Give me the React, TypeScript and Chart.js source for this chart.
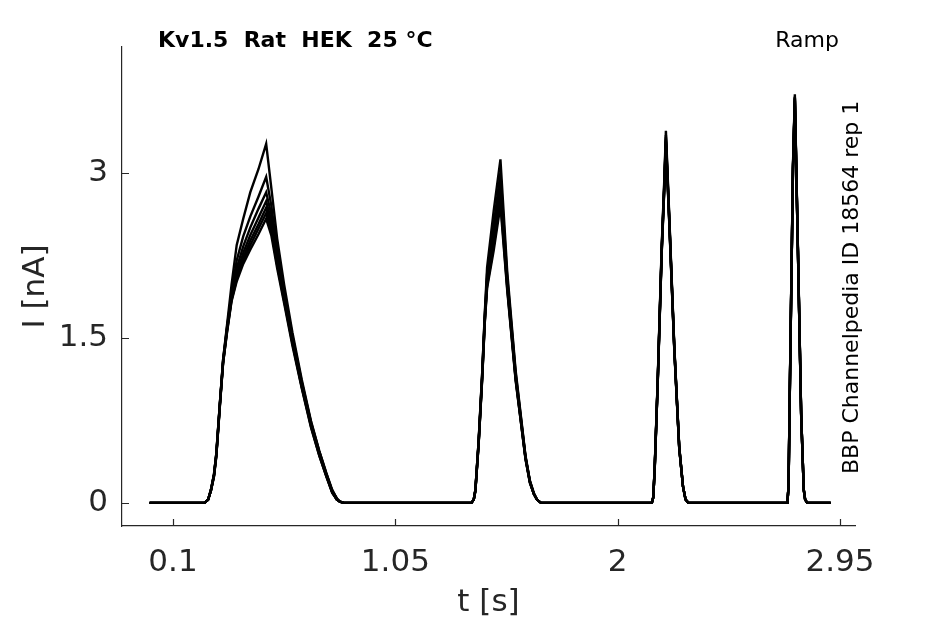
import { useEffect, useRef } from "react";
import { Chart, registerables } from "chart.js";

Chart.register(...registerables);

// sample times [s], one row per ramp
const TIME = [
  0, 0.235, 0.25, 0.262, 0.275, 0.285, 0.3, 0.314, 0.331, 0.35, 0.372, 0.4, 0.43, 0.465, 0.498, 0.52, 0.545, 0.575, 0.61, 0.65, 0.69, 0.725, 0.755, 0.78, 0.8, 0.813, 0.83,
  1.375, 1.385, 1.392, 1.406, 1.421, 1.432, 1.442, 1.47, 1.499, 1.528, 1.564, 1.606, 1.625, 1.642, 1.655, 1.672,
  2.146, 2.152, 2.158, 2.171, 2.188, 2.199, 2.206, 2.22, 2.242, 2.263, 2.279, 2.29, 2.302,
  2.725, 2.73, 2.736, 2.742, 2.749, 2.757, 2.77, 2.784, 2.795, 2.801, 2.81, 2.91,
];

// current [nA] per sweep
const SWEEP_1 = [
  0, 0, 0.03, 0.12, 0.26, 0.45, 0.9, 1.3, 1.62, 1.98, 2.34, 2.58, 2.82, 3.03, 3.26, 2.86, 2.4, 1.98, 1.55, 1.12, 0.74, 0.47, 0.27, 0.12, 0.04, 0.01, 0,
  0, 0.03, 0.12, 0.57, 1.18, 1.72, 2.14, 2.65, 3.12, 2.1, 1.2, 0.43, 0.2, 0.09, 0.03, 0,
  0, 0.05, 0.32, 1.12, 2.33, 2.93, 3.38, 2.63, 1.42, 0.51, 0.15, 0.03, 0,
  0, 0.15, 1.12, 2.02, 3.08, 3.71, 2.33, 0.81, 0.12, 0.03, 0, 0,
];
const SWEEP_2 = [
  0, 0, 0.03, 0.12, 0.26, 0.45, 0.9, 1.3, 1.6, 1.9, 2.2, 2.42, 2.6, 2.78, 2.96, 2.7, 2.3, 1.92, 1.52, 1.1, 0.73, 0.47, 0.27, 0.11, 0.04, 0.01, 0,
  0, 0.03, 0.12, 0.57, 1.18, 1.7, 2.08, 2.52, 3.0, 2.05, 1.18, 0.42, 0.2, 0.08, 0.03, 0,
  0, 0.05, 0.31, 1.11, 2.31, 2.9, 3.34, 2.61, 1.41, 0.51, 0.15, 0.03, 0,
  0, 0.15, 1.11, 2.01, 3.06, 3.69, 2.32, 0.81, 0.12, 0.03, 0, 0,
];
const SWEEP_3 = [
  0, 0, 0.03, 0.12, 0.25, 0.44, 0.89, 1.29, 1.59, 1.88, 2.13, 2.33, 2.5, 2.67, 2.82, 2.62, 2.26, 1.9, 1.5, 1.09, 0.72, 0.46, 0.26, 0.11, 0.04, 0.01, 0,
  0, 0.03, 0.12, 0.56, 1.16, 1.68, 2.04, 2.46, 2.92, 2.02, 1.16, 0.42, 0.19, 0.08, 0.03, 0,
  0, 0.05, 0.31, 1.1, 2.3, 2.88, 3.32, 2.6, 1.4, 0.5, 0.15, 0.03, 0,
  0, 0.15, 1.1, 2.0, 3.05, 3.68, 2.31, 0.8, 0.12, 0.03, 0, 0,
];
const SWEEP_4 = [
  0, 0, 0.03, 0.11, 0.25, 0.44, 0.89, 1.28, 1.58, 1.86, 2.08, 2.27, 2.43, 2.59, 2.74, 2.56, 2.22, 1.87, 1.48, 1.07, 0.71, 0.45, 0.25, 0.1, 0.03, 0.01, 0,
  0, 0.03, 0.11, 0.55, 1.15, 1.66, 2.01, 2.41, 2.85, 1.99, 1.14, 0.41, 0.19, 0.08, 0.03, 0,
  0, 0.05, 0.3, 1.1, 2.29, 2.87, 3.3, 2.59, 1.4, 0.5, 0.15, 0.03, 0,
  0, 0.15, 1.1, 2.0, 3.04, 3.68, 2.31, 0.8, 0.12, 0.03, 0, 0,
];
const SWEEP_5 = [
  0, 0, 0.03, 0.11, 0.25, 0.43, 0.88, 1.28, 1.57, 1.85, 2.05, 2.23, 2.38, 2.53, 2.68, 2.51, 2.19, 1.85, 1.46, 1.06, 0.7, 0.44, 0.25, 0.1, 0.03, 0.01, 0,
  0, 0.03, 0.11, 0.55, 1.14, 1.65, 1.99, 2.37, 2.8, 1.97, 1.13, 0.41, 0.19, 0.08, 0.03, 0,
  0, 0.05, 0.3, 1.09, 2.28, 2.86, 3.29, 2.58, 1.39, 0.5, 0.15, 0.03, 0,
  0, 0.15, 1.09, 1.99, 3.04, 3.67, 2.3, 0.8, 0.12, 0.03, 0, 0,
];
const SWEEP_6 = [
  0, 0, 0.03, 0.11, 0.24, 0.43, 0.88, 1.27, 1.56, 1.84, 2.03, 2.2, 2.34, 2.49, 2.63, 2.47, 2.16, 1.83, 1.45, 1.05, 0.69, 0.43, 0.24, 0.1, 0.03, 0.01, 0,
  0, 0.03, 0.11, 0.54, 1.13, 1.64, 1.97, 2.33, 2.75, 1.95, 1.12, 0.4, 0.18, 0.08, 0.03, 0,
  0, 0.05, 0.3, 1.09, 2.27, 2.85, 3.28, 2.57, 1.39, 0.5, 0.15, 0.03, 0,
  0, 0.14, 1.09, 1.99, 3.03, 3.66, 2.3, 0.79, 0.12, 0.03, 0, 0,
];
const SWEEP_7 = [
  0, 0, 0.03, 0.11, 0.24, 0.42, 0.87, 1.27, 1.55, 1.83, 2.01, 2.17, 2.3, 2.44, 2.58, 2.43, 2.13, 1.81, 1.43, 1.04, 0.68, 0.43, 0.24, 0.09, 0.03, 0.01, 0,
  0, 0.03, 0.11, 0.54, 1.12, 1.63, 1.95, 2.29, 2.7, 1.93, 1.11, 0.4, 0.18, 0.08, 0.03, 0,
  0, 0.05, 0.29, 1.08, 2.26, 2.84, 3.26, 2.56, 1.38, 0.49, 0.15, 0.03, 0,
  0, 0.14, 1.08, 1.98, 3.02, 3.65, 2.29, 0.79, 0.12, 0.03, 0, 0,
];
const SWEEPS = [SWEEP_1, SWEEP_2, SWEEP_3, SWEEP_4, SWEEP_5, SWEEP_6, SWEEP_7];

const X_TICKS = [0.1, 1.05, 2, 2.95];
const Y_TICKS = [0, 1.5, 3];

const TITLE = "Kv1.5  Rat  HEK  25 °C";
const PROTOCOL = "Ramp";
const SOURCE = "BBP Channelpedia ID 18564 rep 1";

const AXIS = "#262626";
const FONT = "'DejaVu Sans', sans-serif";

// MATLAB-style ticks pointing into the plot, plus the header texts
const decorations = {
  id: "decorations",
  afterDraw(chart: Chart) {
    const { ctx, chartArea, scales } = chart;
    const len = 7;
    ctx.save();
    ctx.strokeStyle = AXIS;
    ctx.lineWidth = 1.2;
    ctx.beginPath();
    X_TICKS.forEach((v) => {
      const px = Math.round(scales.x.getPixelForValue(v)) + 0.5;
      ctx.moveTo(px, chartArea.bottom);
      ctx.lineTo(px, chartArea.bottom - len);
    });
    Y_TICKS.forEach((v) => {
      const py = Math.round(scales.y.getPixelForValue(v)) + 0.5;
      ctx.moveTo(chartArea.left, py);
      ctx.lineTo(chartArea.left + len, py);
    });
    ctx.stroke();

    ctx.fillStyle = "#000";
    ctx.textBaseline = "alphabetic";
    ctx.textAlign = "left";
    ctx.font = `bold 22px ${FONT}`;
    ctx.fillText(TITLE, 158, 47);
    ctx.font = `22px ${FONT}`;
    ctx.textAlign = "right";
    ctx.fillText(PROTOCOL, 839, 47);

    ctx.translate(858, 474);
    ctx.rotate(-Math.PI / 2);
    ctx.textAlign = "left";
    ctx.fillText(SOURCE, 0, 0);
    ctx.restore();
  },
};

export default function App() {
  const canvasRef = useRef<HTMLCanvasElement>(null);

  useEffect(() => {
    if (!canvasRef.current) return;
    Chart.defaults.font.family = FONT;

    const chart = new Chart(canvasRef.current, {
      type: "line",
      data: {
        datasets: SWEEPS.map((sweep, i) => ({
          label: `sweep ${i + 1}`,
          data: TIME.map((t, j) => ({ x: t, y: sweep[j] })),
          borderColor: "#000",
          borderWidth: 2.4,
          pointRadius: 0,
          tension: 0,
          fill: false,
        })),
      },
      options: {
        animation: false,
        responsive: true,
        maintainAspectRatio: false,
        layout: { padding: { left: 0, top: 47, right: 90, bottom: 0 } },
        plugins: {
          legend: { display: false },
          tooltip: { enabled: false },
        },
        scales: {
          x: {
            type: "linear",
            min: -0.118,
            max: 3.014,
            afterBuildTicks: (scale: any) => {
              scale.ticks = X_TICKS.map((v) => ({ value: v }));
            },
            afterFit: (scale: any) => {
              scale.height = 98;
            },
            ticks: {
              color: AXIS,
              font: { size: 31 },
              padding: 18,
              maxRotation: 0,
              callback: (v: any) => String(v),
            },
            grid: { drawOnChartArea: false, drawTicks: false },
            border: { display: true, color: AXIS, width: 1.2 },
            title: {
              display: true,
              text: "t [s]",
              color: AXIS,
              font: { size: 31 },
              padding: { top: 0, bottom: 2 },
            },
          },
          y: {
            type: "linear",
            min: -0.21,
            max: 4.14,
            afterBuildTicks: (scale: any) => {
              scale.ticks = Y_TICKS.map((v) => ({ value: v }));
            },
            afterFit: (scale: any) => {
              scale.width = 122;
            },
            ticks: {
              color: AXIS,
              font: { size: 31 },
              padding: 14,
              callback: (v: any) => String(v),
            },
            grid: { drawOnChartArea: false, drawTicks: false },
            border: { display: true, color: AXIS, width: 1.2 },
            title: {
              display: true,
              text: "I [nA]",
              color: AXIS,
              font: { size: 31 },
              padding: { top: 17, bottom: 0 },
            },
          },
        },
      },
      plugins: [decorations],
    });

    return () => chart.destroy();
  }, []);

  return (
    <div style={{ position: "absolute", left: 0, top: 0, width: 945, height: 624, background: "#fff" }}>
      <canvas ref={canvasRef} />
    </div>
  );
}
